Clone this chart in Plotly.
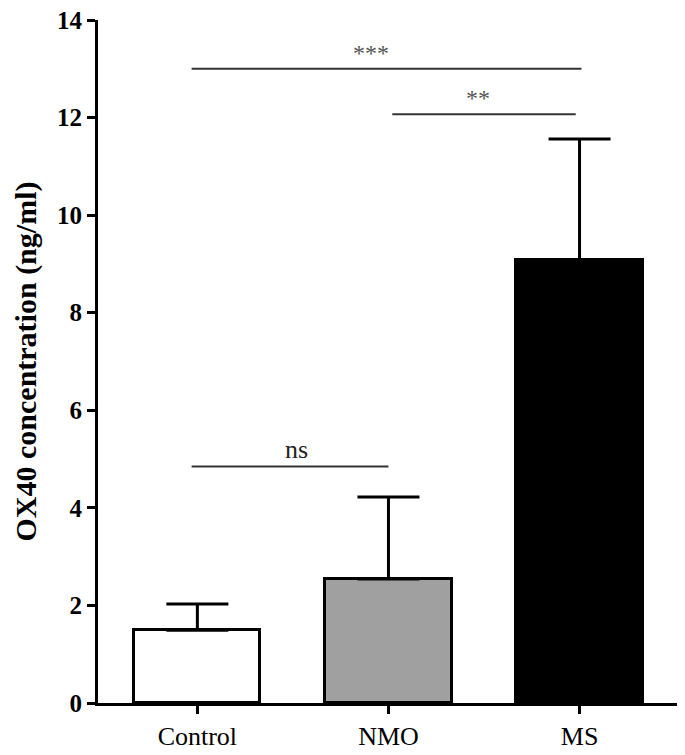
import plotly.graph_objects as go

categories = ["Control", "NMO", "MS"]
means = [1.49, 2.54, 9.08]
err_plus = [0.54, 1.68, 2.48]
fill_colors = ["#ffffff", "#a0a0a0", "#000000"]
y_ticks = [0, 2, 4, 6, 8, 10, 12, 14]

# significance brackets
sig_x0 = [-0.03, 1.02, -0.03]
sig_x1 = [2.01, 1.98, 1.0]
sig_y = [13.0, 12.07, 4.85]
sig_label = ["***", "**", "ns"]
sig_label_x = [0.91, 1.47, 0.52]

fig = go.Figure()
fig.add_trace(go.Bar(
    x=[0, 1, 2], y=means, width=0.66,
    marker=dict(color=fill_colors, line=dict(color="black", width=3)),
    error_y=dict(type="data", array=err_plus, arrayminus=[0, 0, 0], symmetric=False,
                 color="black", thickness=3, width=31),
))

for x0, x1, y, lab, lx in zip(sig_x0, sig_x1, sig_y, sig_label, sig_label_x):
    fig.add_shape(type="line", x0=x0, x1=x1, y0=y, y1=y, xref="x", yref="y",
                  line=dict(color="#333333", width=2))
    is_star = "*" in lab
    fig.add_annotation(x=lx, y=y, xref="x", yref="y", text=lab, showarrow=False,
                       yanchor="bottom", yshift=1 if is_star else 0,
                       font=dict(family="Liberation Serif", size=24 if is_star else 26,
                                 color="#555555" if is_star else "#222222"))

fig.add_annotation(x=0, y=0.5, xref="paper", yref="paper", xanchor="center", yanchor="middle",
                   xshift=-73, textangle=-90, showarrow=False,
                   text="<b>OX40 concentration (ng/ml)</b>",
                   font=dict(family="Liberation Serif", size=30, color="black"))

fig.update_layout(
    width=685, height=755,
    margin=dict(l=90, r=16, t=12, b=55),
    plot_bgcolor="white", paper_bgcolor="white",
    showlegend=False, bargap=0,
    font=dict(family="Liberation Serif", color="black"),
    xaxis=dict(range=[-0.52, 2.51], tickmode="array", tickvals=[0, 1, 2], ticktext=categories,
               showline=True, linecolor="black", linewidth=3, ticks="outside",
               ticklen=8, tickwidth=3, tickcolor="black", showgrid=False, zeroline=False,
               tickfont=dict(family="Liberation Serif", size=26, color="black")),
    yaxis=dict(range=[0, 14], tickmode="array", tickvals=y_ticks,
               ticktext=[f"<b>{v}</b>" for v in y_ticks],
               showline=True, linecolor="black", linewidth=3, ticks="outside",
               ticklen=8, tickwidth=3, tickcolor="black", showgrid=False, zeroline=False,
               automargin=False, ticklabeloverflow="allow",
               tickfont=dict(family="Liberation Serif", size=25, color="black")),
)

fig.write_html("out.html")
